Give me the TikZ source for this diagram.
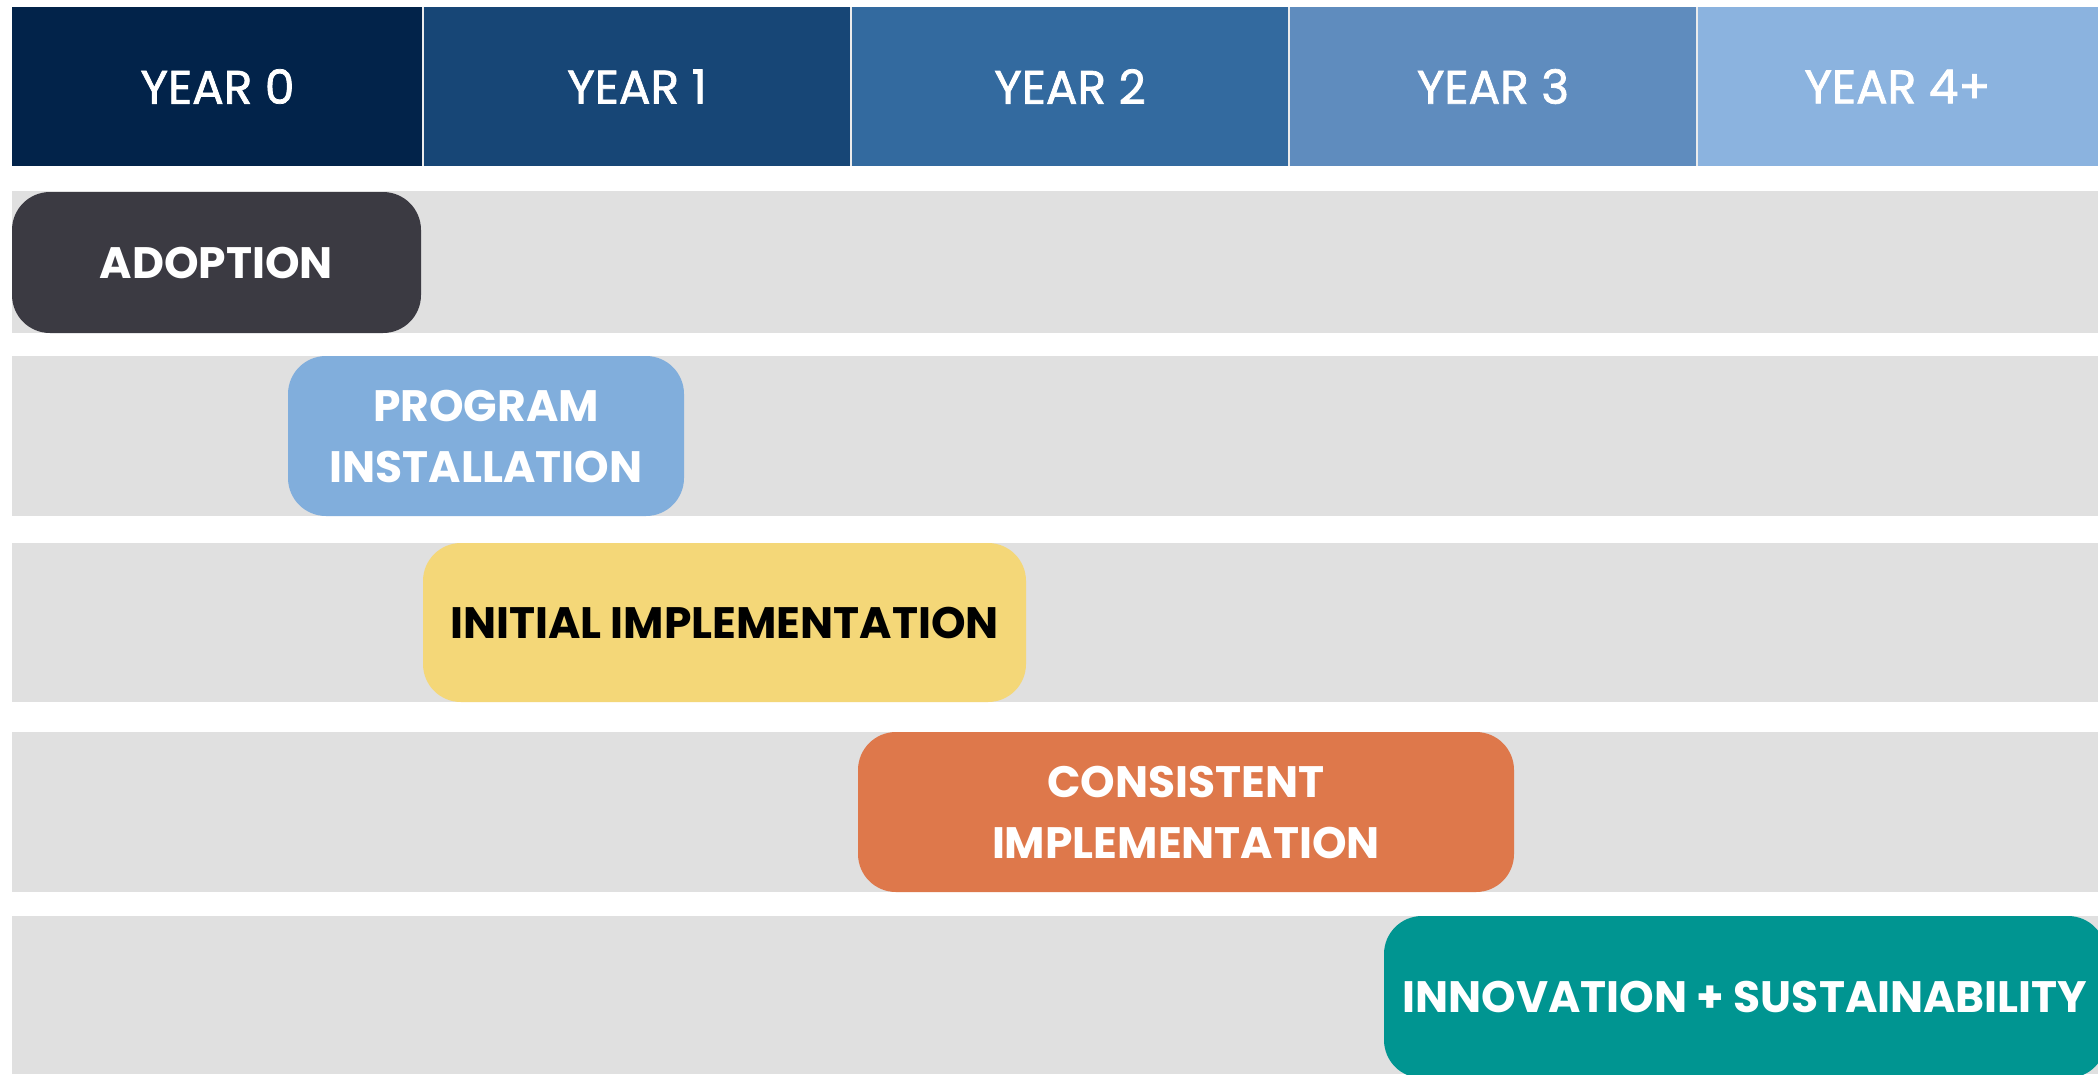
\documentclass[tikz,border=0pt]{standalone}
\usepackage{fontspec}
\newfontfamily\pop{Poppins}
\newfontfamily\popmed{Poppins}[FakeBold=1.6]
\definecolor{cYa}{HTML}{02234A}
\definecolor{cYb}{HTML}{174676}
\definecolor{cYc}{HTML}{336A9F}
\definecolor{cYd}{HTML}{5F8CBE}
\definecolor{cYe}{HTML}{8BB3DF}
\definecolor{cBand}{HTML}{E0E0E0}
\definecolor{cAdopt}{HTML}{3B3A42}
\definecolor{cInst}{HTML}{81AEDC}
\definecolor{cInit}{HTML}{F4D778}
\definecolor{cCons}{HTML}{DE784B}
\definecolor{cInno}{HTML}{009591}
\tikzset{
  yearcell/.style={minimum height=159pt, inner sep=0pt, outer sep=0pt, text=white,
    font=\popmed\fontsize{47}{50}\selectfont},
  band/.style={fill=cBand, draw=none},
  phase/.style={rounded corners=38pt, inner sep=0pt, outer sep=0pt, align=center,
    text=white, font=\pop\bfseries\fontsize{44}{61}\selectfont},
  sep/.style={draw=white!85!gray, line width=2pt}
}
\begin{document}
\begin{tikzpicture}[x=1pt, y=-1pt]
\path[clip] (0,0) rectangle (2098,1074);
\fill[white] (0,0) rectangle (2098,1074);
% header
\node[yearcell, fill=cYa, minimum width=411pt] (y0) at (217.5,86.5) {YEAR 0};
\node[yearcell, fill=cYb, minimum width=428pt] (y1) at (637,86.5) {YEAR 1};
\node[yearcell, fill=cYc, minimum width=438pt] (y2) at (1070,86.5) {YEAR 2};
\node[yearcell, fill=cYd, minimum width=408pt] (y3) at (1493,86.5) {YEAR 3};
\node[yearcell, fill=cYe, minimum width=401pt] (y4) at (1897.5,86.5) {YEAR 4+};
\draw[sep] (y0.north east) -- (y0.south east);
\draw[sep] (y1.north east) -- (y1.south east);
\draw[sep] (y2.north east) -- (y2.south east);
\draw[sep] (y3.north east) -- (y3.south east);
% bands
\fill[band] (12,191) rectangle (2098,333);
\fill[band] (12,356) rectangle (2098,516);
\fill[band] (12,543) rectangle (2098,702);
\fill[band] (12,732) rectangle (2098,892);
\fill[band] (12,916) rectangle (2098,1074);
% phases
\node[phase, fill=cAdopt, minimum width=409pt, minimum height=141pt] (adopt) at (216.5,262.5) {ADOPTION};
\node[phase, fill=cInst, minimum width=396pt, minimum height=160pt] (inst) at (486,436) {PROGRAM\\INSTALLATION};
\node[phase, fill=cInit, text=black, minimum width=603pt, minimum height=159pt] (init) at (724.5,622.5) {INITIAL IMPLEMENTATION};
\node[phase, fill=cCons, minimum width=656pt, minimum height=160pt] (cons) at (1186,812) {CONSISTENT\\IMPLEMENTATION};
\node[phase, fill=cInno, minimum width=722pt, minimum height=162pt] (inno) at (1745,997) {INNOVATION + SUSTAINABILITY};
\end{tikzpicture}
\end{document}
